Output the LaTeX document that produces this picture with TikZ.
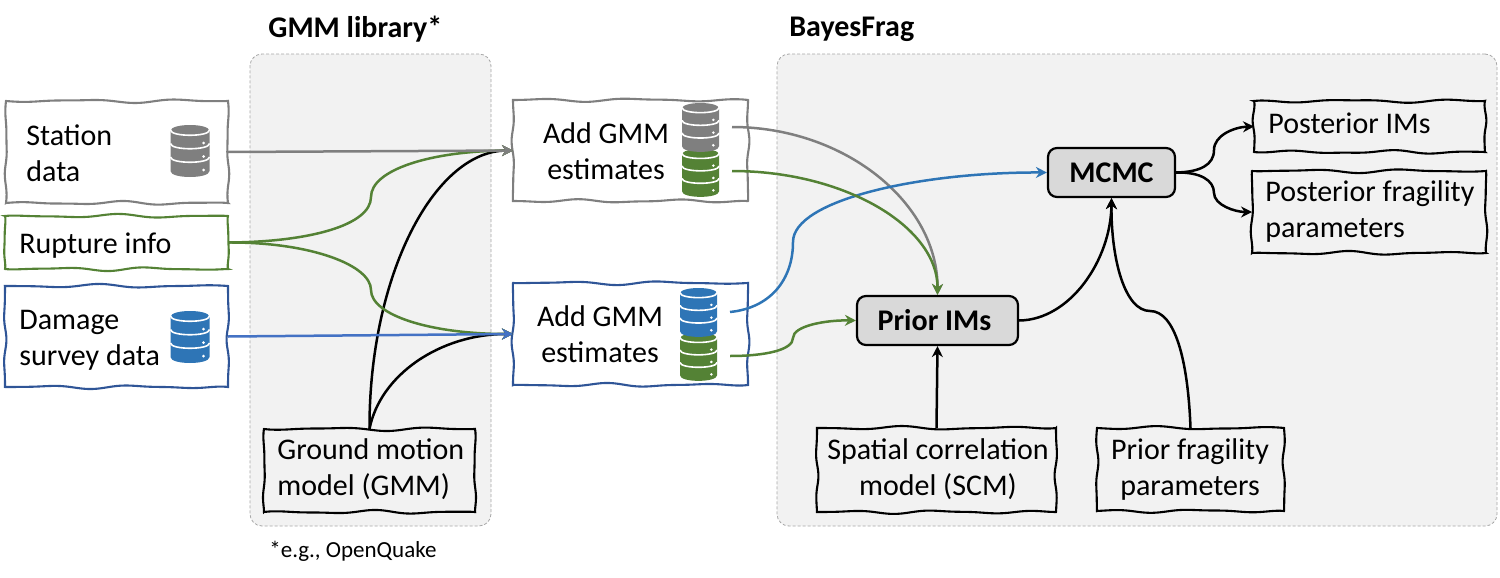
\documentclass[tikz,border=0pt]{standalone}
\usepackage{fontspec}
\setmainfont{Carlito}
\usetikzlibrary{arrows.meta}
\definecolor{cgray}{HTML}{7F7F7F}
\definecolor{cgreen}{HTML}{548235}
\definecolor{cblue}{HTML}{2E75B6}
\definecolor{cnavy}{HTML}{2F5597}
\definecolor{cline}{HTML}{4472C4}
\definecolor{cpanel}{HTML}{F2F2F2}
\definecolor{cdash}{HTML}{A6A6A6}
\definecolor{cbox}{HTML}{D9D9D9}
\tikzset{
  x=0.5pt,y=-0.5pt,
  panel/.style={draw=cdash,fill=cpanel,line width=0.4pt,dash pattern=on 1.5pt off 1pt,rounded corners=6pt},
  lbl/.style={font=\fontsize{15}{18}\selectfont,inner sep=0pt,text=black},
  head/.style={font=\fontsize{15}{18}\selectfont\bfseries,inner sep=0pt,anchor=west},
  foot/.style={font=\fontsize{11.5}{13}\selectfont,inner sep=0pt,anchor=west},
  procbox/.style={draw=black,fill=cbox,line width=1.1pt,rounded corners=4.5pt,inner sep=0pt,font=\fontsize{15}{18}\selectfont\bfseries},
  boxarea/.style={inner sep=0pt,outer sep=0pt},
  conn/.style={line width=1.25pt,-{Stealth[length=5.5pt,width=5.5pt]}},
  pics/dbicon/.style={code={
    \fill[#1] (0,6) .. controls (0,-2) and (39,-2) .. (39,6) -- (39,46) .. controls (39,54) and (0,54) .. (0,46) -- cycle;
    \draw[white,line width=0.8pt] (0,5) .. controls (0,12) and (39,12) .. (39,5);
    \draw[white,line width=0.8pt] (0,18.5) .. controls (0,25.5) and (39,25.5) .. (39,18.5);
    \draw[white,line width=0.8pt] (0,32) .. controls (0,39) and (39,39) .. (39,32);
    \fill[white] (33,18) circle[radius=1.5] (33,31.5) circle[radius=1.5] (33,45) circle[radius=1.5];
  }}
}
% wobble of an edge at fraction \x, for sign \ss, phase \ph and wave count #1
\def\WOB#1{\ss*(1.4*sin(360*#1*\x+\ph)+0.7*sin(360*#1*1.7*\x+2*\ph))*sqrt(abs(sin(180*\x)))}
% name, x0, y0, x1, y1, colour, amplitude sign, phase
\newcommand{\wavybox}[8]{%
  \pgfmathsetmacro\xa{#2}\pgfmathsetmacro\ya{#3}%
  \pgfmathsetmacro\xb{#4}\pgfmathsetmacro\yb{#5}%
  \pgfmathsetmacro\wb{#4-#2}\pgfmathsetmacro\hb{#5-#3}%
  \pgfmathsetmacro\ss{#7}\pgfmathsetmacro\ph{#8}%
  \pgfmathsetmacro\na{\wb/105}\pgfmathsetmacro\nb{\wb/95}\pgfmathsetmacro\nc{max(1,\hb/60)}%
  \node[boxarea,minimum width=\wb*0.5pt,minimum height=\hb*0.5pt] (#1) at ({(#2+#4)/2},{(#3+#5)/2}) {};
  \draw[#6,line width=1.05pt,line join=miter]
    plot[domain=0:1,samples=41,smooth,variable=\x] ({\xa+\wb*\x},{\ya+\WOB{\na}})
    -- plot[domain=0:1,samples=25,smooth,variable=\x] ({\xb+0.7*\WOB{\nc}},{\ya+\hb*\x})
    -- plot[domain=1:0,samples=41,smooth,variable=\x] ({\xa+\wb*\x},{\yb-\WOB{\nb}})
    -- plot[domain=1:0,samples=25,smooth,variable=\x] ({\xa-0.7*\WOB{\nc}},{\ya+\hb*\x}) -- cycle;
}
\begin{document}
\begin{tikzpicture}
\useasboundingbox (0,0) rectangle (1500,578);
% panels
\node[panel,minimum width=120.5pt,minimum height=236pt,inner sep=0pt] (gmmpanel) at (370.5,290) {};
\node[panel,minimum width=360pt,minimum height=236pt,inner sep=0pt] (bayespanel) at (1137,290) {};
\node[head] (gmmhead) at (268,29) {GMM library*};
\node[head] (bayeshead) at (789,29) {BayesFrag};
\node[foot] (footnote) at (269,551) {*e.g., OpenQuake};
% data boxes
\wavybox{station}{6}{101}{228}{203}{cgray}{1}{20}
\wavybox{rupture}{5}{216}{228}{269}{cgreen}{-1}{70}
\wavybox{damage}{5}{286}{228}{387}{cnavy}{-1}{130}
\wavybox{addone}{513}{100}{748}{201}{cgray}{1}{200}
\wavybox{addtwo}{513}{283}{748}{385}{cnavy}{1}{100}
\wavybox{gmm}{264}{429}{475}{512}{black}{1}{40}
\wavybox{scm}{817}{428}{1056}{512}{black}{-1}{160}
\wavybox{priorfrag}{1097}{428}{1284}{511}{black}{-1}{240}
\wavybox{postim}{1254}{101}{1485}{152}{black}{1}{300}
\wavybox{postfrag}{1252}{171}{1486}{253}{black}{1}{90}
% database icons
\path (170.5,125) pic {dbicon=cgray};
\path (170.5,311) pic {dbicon=cblue};
\path (682,149) pic[xscale=0.95,yscale=0.92] {dbicon=cgreen};
\path (682,103) pic[xscale=0.95,yscale=0.94] {dbicon=cgray};
\path (680,333) pic[xscale=0.95,yscale=0.92] {dbicon=cgreen};
\path (680,288) pic[xscale=0.95,yscale=0.94] {dbicon=cblue};
% text
\node[lbl,align=left,anchor=west] (stationt) at (26,153.5) {Station\\data};
\node[lbl,anchor=west] (rupturet) at (19,246) {Rupture info};
\node[lbl,align=left,anchor=west] (damaget) at (19,340) {Damage\\survey data};
\node[lbl,align=center] (addonet) at (606,151) {Add GMM\\estimates};
\node[lbl,align=center] (addtwot) at (600,334) {Add GMM\\estimates};
\node[lbl,align=left,anchor=west] (gmmt) at (277,469) {Ground motion\\model (GMM)};
\node[lbl,align=center] (scmt) at (938,469) {Spatial correlation\\model (SCM)};
\node[lbl,align=center] (priorfragt) at (1190,469) {Prior fragility\\parameters};
\node[lbl,anchor=west] (postimt) at (1268,123) {Posterior IMs};
\node[lbl,align=left,anchor=west] (postfragt) at (1265,211) {Posterior fragility\\parameters};
% process boxes
\node[procbox,minimum width=80.5pt,minimum height=24.5pt] (prior) at (937.5,320.5) {Prior IMs\kern3pt};
\node[procbox,minimum width=63.5pt,minimum height=24.5pt] (mcmc) at (1111.5,172.5) {MCMC};
% free connector ends at the database icons
\coordinate (gtop) at (732,127);
\coordinate (gbot) at (732,171);
\coordinate (btop) at (730,312);
\coordinate (bbot) at (730,356);
% connectors
\draw[conn,black] (gmm.north) .. controls (369,276) and (434,151) .. (addone.west);
\draw[conn,black] (gmm.north) .. controls (380,375) and (440,334) .. (addtwo.west);
\draw[conn,cgreen] (rupture.east) .. controls (310,242) and (371,225) .. (371,197) .. controls (371,170) and (430,151) .. (addone.west);
\draw[conn,cgreen] (rupture.east) .. controls (310,242) and (371,265) .. (371,290) .. controls (371,315) and (430,334) .. (addtwo.west);
\draw[conn,cgray] (station.east) -- (addone.west);
\draw[conn,cline] (damage.east) -- (addtwo.west);
\draw[conn,cgray] (gtop) .. controls (845,127) and (938,203) .. (prior.north);
\draw[conn,cblue] (btop) .. controls (770,308) and (793,280) .. (793,242) .. controls (793,200) and (920,172) .. (mcmc.west);
\draw[conn,cgreen] (gbot) .. controls (845,171) and (938,227) .. (prior.north);
\draw[conn,cgreen] (bbot) .. controls (765,356) and (793,350) .. (793,338) .. controls (793,326) and (825,320) .. (prior.west);
\draw[conn,black] (scm.north) -- (prior.south);
\draw[conn,black] (prior.east) .. controls (1070,320) and (1111,260) .. (mcmc.south);
\draw[conn,black] (priorfrag.north) .. controls (1188,360) and (1175,311) .. (1150,311) .. controls (1125,311) and (1111,260) .. (mcmc.south);
\draw[conn,black] (mcmc.east) .. controls (1200,172) and (1214,165) .. (1214,150) .. controls (1214,135) and (1235,127) .. (postim.west);
\draw[conn,black] (mcmc.east) .. controls (1200,172) and (1214,180) .. (1214,193) .. controls (1214,205) and (1235,212) .. (postfrag.west);
\end{tikzpicture}
\end{document}
